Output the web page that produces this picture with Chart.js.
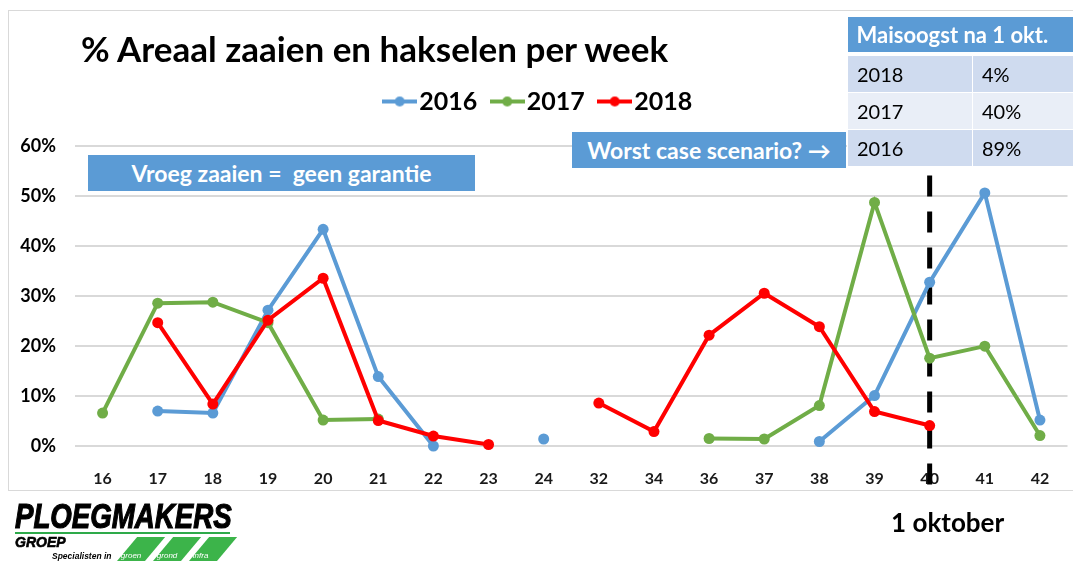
<!DOCTYPE html>
<html>
<head>
<meta charset="utf-8">
<script src="https://cdn.jsdelivr.net/npm/chart.js@4/dist/chart.umd.min.js"></script>
<style>
  body { margin: 0; background: #fff; font-family: Lato, sans-serif; }
  #wrap { position: relative; width: 1073px; height: 561px; overflow: hidden; }
  #frame { position: absolute; left: 8px; top: 10px; width: 1080px; height: 479px; border: 1px solid #d9d9d9; }
  #chart { position: absolute; left: 0; top: 0; }
  .abs { position: absolute; white-space: pre; }
  #title { left: 81px; top: 27px; font: 700 35px Lato; color: #000; }
  .bluebox { background: #5b9bd5; color: #fff; font: 700 23px Lato; text-align: center; line-height: 36px; }
  #vroeg { left: 88px; top: 155px; width: 387px; height: 36px; }
  #worst { left: 572px; top: 132px; width: 274px; height: 36px; }
  #table { left: 847px; top: 17px; width: 230px; border-collapse: collapse; }
  #table td { padding: 0 0 0 9px; font: 400 20px Lato; color: #000; border: 1px solid #fff; height: 36px; }
  #table th { padding: 0 0 0 9px; font: 700 22px Lato; color: #fff; background: #5b9bd5; text-align: left; height: 35px; border-bottom: 4px solid #fff; }
  #table tr.a td { background: #cfdbef; }
  #table tr.b td { background: #e9eef7; }
  #table td.c1 { width: 115px; }
  #brand { left: 15px; top: 498px; font: italic 700 35px/1 "Liberation Sans"; color: #000; -webkit-text-stroke: 1.2px #000; transform: scaleX(0.79); transform-origin: left top; }
  #rule { left: 15px; top: 532px; width: 215px; height: 2px; background: #2eaa4a; }
  #groep { left: 15px; top: 535px; font: italic 700 14px/1 "Liberation Sans"; color: #000; -webkit-text-stroke: 0.6px #000; }
  #spec { left: 52px; top: 552px; font: italic 700 8.5px/1 "Liberation Sans"; color: #000; }
  .tag { top: 537px; width: 28px; height: 24px; background: #3cb44a; transform: skewX(-40deg); transform-origin: bottom left; }
  .tag span { position: absolute; left: 3px; bottom: 1px; color: #fff; font: italic 400 8px/1 "Liberation Sans"; transform: skewX(40deg); transform-origin: bottom left; }
</style>
</head>
<body>
<div id="wrap">
  <div id="frame"></div>
  <canvas id="chart" width="1073" height="561"></canvas>
  <div id="title" class="abs">% Areaal zaaien en hakselen per week</div>
  <div id="vroeg" class="abs bluebox">Vroeg zaaien =  geen garantie</div>
  <div id="worst" class="abs bluebox">Worst case scenario? →</div>
  <table id="table" class="abs">
    <tr><th colspan="2">Maisoogst na 1 okt.</th></tr>
    <tr class="a"><td class="c1">2018</td><td>4%</td></tr>
    <tr class="b"><td class="c1">2017</td><td>40%</td></tr>
    <tr class="a"><td class="c1">2016</td><td>89%</td></tr>
  </table>
  <div id="brand" class="abs">PLOEGMAKERS</div>
  <div id="rule" class="abs"></div>
  <div id="groep" class="abs">GROEP</div>
  <div id="spec" class="abs">Specialisten in</div>
  <div class="abs tag" style="left:117px"><span>groen</span></div>
  <div class="abs tag" style="left:153px"><span>grond</span></div>
  <div class="abs tag" style="left:189px"><span>infra</span></div>
</div>
<script>
// Data
const weeks = ['16', '17', '18', '19', '20', '21', '22', '23', '24', '32', '34', '36', '37', '38', '39', '40', '41', '42'];
const s2016 = [null, 7.0, 6.6, 27.2, 43.4, 13.9, 0, null, 1.4, null, null, null, null, 0.9, 10.1, 32.8, 50.7, 5.2];
const s2017 = [6.6, 28.6, 28.8, 24.7, 5.2, 5.4, null, null, null, null, null, 1.5, 1.4, 8.1, 48.8, 17.6, 20.0, 2.1];
const s2018 = [null, 24.7, 8.4, 25.2, 33.6, 5.1, 2.0, 0.3, null, 8.6, 2.9, 22.2, 30.6, 23.9, 6.9, 4.1, null, null];
const yTicks = [0, 10, 20, 30, 40, 50, 60];
const oktoberWeek = '40';

const colors = ['#5b9bd5', '#70ad47', '#ff0000'];

// Legend marker: line with dot
function makeMarker(color) {
  const c = document.createElement('canvas');
  c.width = 35;
  c.height = 12;
  const g = c.getContext('2d');
  g.strokeStyle = color;
  g.lineWidth = 4;
  g.beginPath();
  g.moveTo(0, 6);
  g.lineTo(35, 6);
  g.stroke();
  g.fillStyle = color;
  g.beginPath();
  g.arc(17.5, 6, 5, 0, Math.PI * 2);
  g.fill();
  return c;
}
const markers = colors.map(makeMarker);

// Dashed line at 1 oktober
const oktoberLine = {
  id: 'oktoberLine',
  beforeDatasetsDraw(chart) {
    const { ctx, scales: { x, y }, chartArea } = chart;
    const px = x.getPixelForValue(weeks.indexOf(oktoberWeek));
    ctx.save();
    ctx.strokeStyle = '#000';
    ctx.lineWidth = 5;
    ctx.setLineDash([21, 15]);
    ctx.beginPath();
    ctx.moveTo(px, y.getPixelForValue(54.2));
    ctx.lineTo(px, chartArea.bottom + 47);
    ctx.stroke();
    ctx.setLineDash([]);
    ctx.font = 'bold 26px Lato';
    ctx.textAlign = 'center';
    ctx.textBaseline = 'alphabetic';
    ctx.fillStyle = '#000';
    ctx.fillText('1 oktober', px + 18, chartArea.bottom + 86);
    ctx.restore();
  }
};

function series(label, data, color, order) {
  return {
    label: label,
    data: data,
    borderColor: color,
    backgroundColor: color,
    borderWidth: 4,
    pointRadius: 5.5,
    pointHoverRadius: 5.5,
    pointBorderWidth: 0,
    tension: 0,
    spanGaps: false,
    clip: false,
    order: order
  };
}

const chart = new Chart(document.querySelector('#chart'), {
  type: 'line',
  data: {
    labels: weeks,
    datasets: [
      series('2016', s2016, colors[0], 2),
      series('2017', s2017, colors[1], 1),
      series('2018', s2018, colors[2], 0)
    ]
  },
  options: {
    responsive: false,
    animation: false,
    layout: { padding: { top: 66, left: 16, right: 4, bottom: 71 } },
    plugins: {
      tooltip: { enabled: false },
      legend: {
        position: 'top',
        labels: {
          usePointStyle: true,
          pointStyleWidth: 14,
          padding: 23,
          color: '#000',
          font: { family: 'Lato', size: 25, weight: 'bold' },
          generateLabels(chart) {
            const items = Chart.defaults.plugins.legend.labels.generateLabels(chart);
            items.sort((a, b) => a.datasetIndex - b.datasetIndex);
            items.forEach((it) => { it.pointStyle = markers[it.datasetIndex]; });
            return items;
          }
        }
      }
    },
    scales: {
      x: {
        offset: true,
        grid: { display: false },
        border: { display: false },
        ticks: { color: '#1a1a1a', padding: 15, font: { family: 'Lato', size: 16, weight: 'bold' }, maxRotation: 0 },
        afterFit: (scale) => { scale.height = 44; }
      },
      y: {
        min: 0,
        max: 64.5,
        grid: { color: '#d9d9d9', lineWidth: 2, drawTicks: false },
        border: { display: false },
        ticks: {
          color: '#000',
          padding: 19,
          font: { family: 'Lato', size: 18, weight: 'bold' },
          callback: (v) => v + '%'
        },
        afterBuildTicks: (scale) => { scale.ticks = yTicks.map((v) => ({ value: v })); },
        afterFit: (scale) => { scale.width = 59; }
      }
    }
  },
  plugins: [oktoberLine]
});
</script>
</body>
</html>
